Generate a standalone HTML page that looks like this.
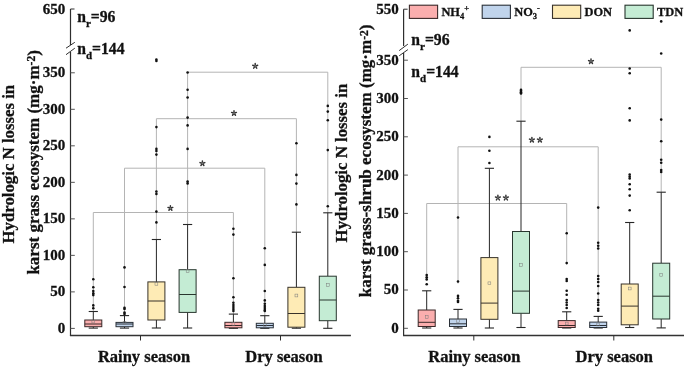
<!DOCTYPE html>
<html><head><meta charset="utf-8"><style>
html,body{margin:0;padding:0;background:#fff;}
svg{display:block;will-change:transform;}
text{font-family:"Liberation Serif", serif;font-weight:bold;fill:#111;stroke:#111;stroke-width:0.3px;}
</style></head><body>
<svg width="685" height="367" viewBox="0 0 685 367">
<polyline points="93.3,311.5 93.3,212.5 233.4,212.5 233.4,314.1" fill="none" stroke="#b4b4b4" stroke-width="1"/>
<path d="M170.40,208.20L170.40,206.80M170.40,208.20L171.73,207.77M170.40,208.20L171.22,209.33M170.40,208.20L169.58,209.33M170.40,208.20L169.07,207.77" stroke="#777" stroke-width="0.8" fill="none"/>
<path d="M170.40,206.90L170.40,205.65M171.64,207.80L172.83,207.41M171.16,209.25L171.90,210.26M169.64,209.25L168.90,210.26M169.16,207.80L167.97,207.41" stroke="#333" stroke-width="1.45" stroke-linecap="round" fill="none"/>
<polyline points="124.5,315.6 124.5,168.2 264.8,168.2 264.8,315.7" fill="none" stroke="#b4b4b4" stroke-width="1"/>
<path d="M202.40,163.40L202.40,162.00M202.40,163.40L203.73,162.97M202.40,163.40L203.22,164.53M202.40,163.40L201.58,164.53M202.40,163.40L201.07,162.97" stroke="#777" stroke-width="0.8" fill="none"/>
<path d="M202.40,162.10L202.40,160.85M203.64,163.00L204.83,162.61M203.16,164.45L203.90,165.46M201.64,164.45L200.90,165.46M201.16,163.00L199.97,162.61" stroke="#333" stroke-width="1.45" stroke-linecap="round" fill="none"/>
<polyline points="156.4,239.5 156.4,118.7 296.4,118.7 296.4,232.2" fill="none" stroke="#b4b4b4" stroke-width="1"/>
<path d="M234.00,113.20L234.00,111.80M234.00,113.20L235.33,112.77M234.00,113.20L234.82,114.33M234.00,113.20L233.18,114.33M234.00,113.20L232.67,112.77" stroke="#777" stroke-width="0.8" fill="none"/>
<path d="M234.00,111.90L234.00,110.65M235.24,112.80L236.43,112.41M234.76,114.25L235.50,115.26M233.24,114.25L232.50,115.26M232.76,112.80L231.57,112.41" stroke="#333" stroke-width="1.45" stroke-linecap="round" fill="none"/>
<polyline points="187.6,224.5 187.6,72.2 327.8,72.2 327.8,212.8" fill="none" stroke="#b4b4b4" stroke-width="1"/>
<path d="M255.20,66.10L255.20,64.70M255.20,66.10L256.53,65.67M255.20,66.10L256.02,67.23M255.20,66.10L254.38,67.23M255.20,66.10L253.87,65.67" stroke="#777" stroke-width="0.8" fill="none"/>
<path d="M255.20,64.80L255.20,63.55M256.44,65.70L257.63,65.31M255.96,67.15L256.70,68.16M254.44,67.15L253.70,68.16M253.96,65.70L252.77,65.31" stroke="#333" stroke-width="1.45" stroke-linecap="round" fill="none"/>
<line x1="70.5" y1="9" x2="70.5" y2="45" stroke="#2e2e2e" stroke-width="1.2"/>
<line x1="70.5" y1="52" x2="70.5" y2="335.5" stroke="#2e2e2e" stroke-width="1.2"/>
<line x1="69.9" y1="335.5" x2="350.9" y2="335.5" stroke="#333" stroke-width="1.5"/>
<line x1="66.0" y1="48.2" x2="74.8" y2="42.3" stroke="#2e2e2e" stroke-width="1"/>
<line x1="66.0" y1="54.7" x2="74.8" y2="48.2" stroke="#2e2e2e" stroke-width="1"/>
<line x1="70.5" y1="328.4" x2="74.8" y2="328.4" stroke="#555" stroke-width="1"/>
<text x="65.3" y="333.0" font-size="15" text-anchor="end" >0</text>
<line x1="70.5" y1="291.885" x2="74.8" y2="291.885" stroke="#555" stroke-width="1"/>
<text x="65.3" y="296.485" font-size="15" text-anchor="end" >50</text>
<line x1="70.5" y1="255.36999999999998" x2="74.8" y2="255.36999999999998" stroke="#555" stroke-width="1"/>
<text x="65.3" y="259.96999999999997" font-size="15" text-anchor="end" >100</text>
<line x1="70.5" y1="218.855" x2="74.8" y2="218.855" stroke="#555" stroke-width="1"/>
<text x="65.3" y="223.45499999999998" font-size="15" text-anchor="end" >150</text>
<line x1="70.5" y1="182.33999999999997" x2="74.8" y2="182.33999999999997" stroke="#555" stroke-width="1"/>
<text x="65.3" y="186.93999999999997" font-size="15" text-anchor="end" >200</text>
<line x1="70.5" y1="145.825" x2="74.8" y2="145.825" stroke="#555" stroke-width="1"/>
<text x="65.3" y="150.42499999999998" font-size="15" text-anchor="end" >250</text>
<line x1="70.5" y1="109.31" x2="74.8" y2="109.31" stroke="#555" stroke-width="1"/>
<text x="65.3" y="113.91" font-size="15" text-anchor="end" >300</text>
<line x1="70.5" y1="72.79499999999999" x2="74.8" y2="72.79499999999999" stroke="#555" stroke-width="1"/>
<text x="65.3" y="77.39499999999998" font-size="15" text-anchor="end" >350</text>
<line x1="70.5" y1="9" x2="74.5" y2="9" stroke="#2e2e2e" stroke-width="1"/>
<text x="65.3" y="14.2" font-size="15" text-anchor="end" >650</text>
<line x1="140.5" y1="335.5" x2="140.5" y2="340.5" stroke="#2e2e2e" stroke-width="1"/>
<line x1="280.5" y1="335.5" x2="280.5" y2="340.5" stroke="#2e2e2e" stroke-width="1"/>
<text x="144" y="361.6" font-size="16.5" text-anchor="middle" >Rainy season</text>
<text x="284" y="361.6" font-size="16.5" text-anchor="middle" >Dry season</text>
<text x="77.2" y="22" font-size="15.7">n<tspan font-size="11" dy="4.8">r</tspan><tspan dy="-4.8">=96</tspan></text>
<text x="77.2" y="53.8" font-size="15.7">n<tspan font-size="11" dy="4.8">d</tspan><tspan dy="-4.8">=144</tspan></text>
<text transform="translate(13.6,243.5) rotate(-90)" font-size="16.8">Hydrologic N losses in</text>
<text transform="translate(38.5,274.6) rotate(-90)" font-size="17">karst grass ecosystem (mg·m<tspan font-size="11.5" dy="-3.5">-2</tspan><tspan dy="3.5">)</tspan></text>
<polyline points="426.7,276 426.7,203.5 566.7,203.5 566.7,265" fill="none" stroke="#b4b4b4" stroke-width="1"/>
<path d="M497.90,197.80L497.90,196.40M497.90,197.80L499.23,197.37M497.90,197.80L498.72,198.93M497.90,197.80L497.08,198.93M497.90,197.80L496.57,197.37" stroke="#777" stroke-width="0.8" fill="none"/>
<path d="M497.90,196.50L497.90,195.25M499.14,197.40L500.33,197.01M498.66,198.85L499.40,199.86M497.14,198.85L496.40,199.86M496.66,197.40L495.47,197.01" stroke="#333" stroke-width="1.45" stroke-linecap="round" fill="none"/>
<path d="M505.90,197.80L505.90,196.40M505.90,197.80L507.23,197.37M505.90,197.80L506.72,198.93M505.90,197.80L505.08,198.93M505.90,197.80L504.57,197.37" stroke="#777" stroke-width="0.8" fill="none"/>
<path d="M505.90,196.50L505.90,195.25M507.14,197.40L508.33,197.01M506.66,198.85L507.40,199.86M505.14,198.85L504.40,199.86M504.66,197.40L503.47,197.01" stroke="#333" stroke-width="1.45" stroke-linecap="round" fill="none"/>
<polyline points="458.0,283.5 458.0,146.8 598.2,146.8 598.2,302" fill="none" stroke="#b4b4b4" stroke-width="1"/>
<path d="M531.90,139.90L531.90,138.50M531.90,139.90L533.23,139.47M531.90,139.90L532.72,141.03M531.90,139.90L531.08,141.03M531.90,139.90L530.57,139.47" stroke="#777" stroke-width="0.8" fill="none"/>
<path d="M531.90,138.60L531.90,137.35M533.14,139.50L534.33,139.11M532.66,140.95L533.40,141.96M531.14,140.95L530.40,141.96M530.66,139.50L529.47,139.11" stroke="#333" stroke-width="1.45" stroke-linecap="round" fill="none"/>
<path d="M539.90,139.90L539.90,138.50M539.90,139.90L541.23,139.47M539.90,139.90L540.72,141.03M539.90,139.90L539.08,141.03M539.90,139.90L538.57,139.47" stroke="#777" stroke-width="0.8" fill="none"/>
<path d="M539.90,138.60L539.90,137.35M541.14,139.50L542.33,139.11M540.66,140.95L541.40,141.96M539.14,140.95L538.40,141.96M538.66,139.50L537.47,139.11" stroke="#333" stroke-width="1.45" stroke-linecap="round" fill="none"/>
<polyline points="521.0,121.2 521.0,67.3 661.2,67.3 661.2,192.2" fill="none" stroke="#b4b4b4" stroke-width="1"/>
<path d="M591.00,61.40L591.00,60.00M591.00,61.40L592.33,60.97M591.00,61.40L591.82,62.53M591.00,61.40L590.18,62.53M591.00,61.40L589.67,60.97" stroke="#777" stroke-width="0.8" fill="none"/>
<path d="M591.00,60.10L591.00,58.85M592.24,61.00L593.43,60.61M591.76,62.45L592.50,63.46M590.24,62.45L589.50,63.46M589.76,61.00L588.57,60.61" stroke="#333" stroke-width="1.45" stroke-linecap="round" fill="none"/>
<line x1="403.6" y1="9.2" x2="403.6" y2="46" stroke="#2e2e2e" stroke-width="1.2"/>
<line x1="403.6" y1="53" x2="403.6" y2="335.5" stroke="#2e2e2e" stroke-width="1.2"/>
<line x1="403.0" y1="335.5" x2="684" y2="335.5" stroke="#333" stroke-width="1.5"/>
<line x1="399.20000000000005" y1="50.6" x2="407.90000000000003" y2="44.1" stroke="#2e2e2e" stroke-width="1"/>
<line x1="399.20000000000005" y1="55.8" x2="407.90000000000003" y2="49.6" stroke="#2e2e2e" stroke-width="1"/>
<line x1="403.6" y1="328.3" x2="407.90000000000003" y2="328.3" stroke="#555" stroke-width="1"/>
<text x="398.7" y="332.7" font-size="15" text-anchor="end" >0</text>
<line x1="403.6" y1="290.0" x2="407.90000000000003" y2="290.0" stroke="#555" stroke-width="1"/>
<text x="398.7" y="294.4" font-size="15" text-anchor="end" >50</text>
<line x1="403.6" y1="251.70000000000002" x2="407.90000000000003" y2="251.70000000000002" stroke="#555" stroke-width="1"/>
<text x="398.7" y="256.1" font-size="15" text-anchor="end" >100</text>
<line x1="403.6" y1="213.4" x2="407.90000000000003" y2="213.4" stroke="#555" stroke-width="1"/>
<text x="398.7" y="217.8" font-size="15" text-anchor="end" >150</text>
<line x1="403.6" y1="175.10000000000002" x2="407.90000000000003" y2="175.10000000000002" stroke="#555" stroke-width="1"/>
<text x="398.7" y="179.50000000000003" font-size="15" text-anchor="end" >200</text>
<line x1="403.6" y1="136.8" x2="407.90000000000003" y2="136.8" stroke="#555" stroke-width="1"/>
<text x="398.7" y="141.20000000000002" font-size="15" text-anchor="end" >250</text>
<line x1="403.6" y1="98.5" x2="407.90000000000003" y2="98.5" stroke="#555" stroke-width="1"/>
<text x="398.7" y="102.9" font-size="15" text-anchor="end" >300</text>
<line x1="403.6" y1="60.19999999999999" x2="407.90000000000003" y2="60.19999999999999" stroke="#555" stroke-width="1"/>
<text x="398.7" y="64.6" font-size="15" text-anchor="end" >350</text>
<line x1="403.6" y1="9.2" x2="407.6" y2="9.2" stroke="#2e2e2e" stroke-width="1"/>
<text x="398.7" y="14.4" font-size="15" text-anchor="end" >550</text>
<line x1="473.8" y1="335.5" x2="473.8" y2="340.5" stroke="#2e2e2e" stroke-width="1"/>
<line x1="613.8" y1="335.5" x2="613.8" y2="340.5" stroke="#2e2e2e" stroke-width="1"/>
<text x="474.3" y="361.6" font-size="16.5" text-anchor="middle" >Rainy season</text>
<text x="614.3" y="361.6" font-size="16.5" text-anchor="middle" >Dry season</text>
<text x="411.3" y="45" font-size="15.7">n<tspan font-size="11" dy="4.8">r</tspan><tspan dy="-4.8">=96</tspan></text>
<text x="411.3" y="76.8" font-size="15.7">n<tspan font-size="11" dy="4.8">d</tspan><tspan dy="-4.8">=144</tspan></text>
<text transform="translate(347.3,242.4) rotate(-90)" font-size="16.8">Hydrologic N losses in</text>
<text transform="translate(371.3,297.2) rotate(-90)" font-size="17">karst grass-shrub ecosystem (mg·m<tspan font-size="11.5" dy="-3.5">-2</tspan><tspan dy="3.5">)</tspan></text>
<line x1="93.3" y1="311.5" x2="93.3" y2="320" stroke="#262626" stroke-width="1"/>
<line x1="93.3" y1="326.7" x2="93.3" y2="328.1" stroke="#262626" stroke-width="1"/>
<line x1="88.7" y1="311.5" x2="97.89999999999999" y2="311.5" stroke="#262626" stroke-width="1.1"/>
<line x1="88.7" y1="328.1" x2="97.89999999999999" y2="328.1" stroke="#262626" stroke-width="1.1"/>
<rect x="84.8" y="320" width="17.0" height="6.699999999999989" fill="#FBAEAE" stroke="#3a2828" stroke-width="1"/>
<line x1="84.8" y1="324" x2="101.8" y2="324" stroke="#3a2828" stroke-width="1"/>
<rect x="91.89999999999999" y="320.1" width="2.8" height="2.8" fill="none" stroke="#7a7a7a" stroke-width="0.5"/>
<circle cx="93.3" cy="279.3" r="1.3" fill="#111"/>
<circle cx="93.3" cy="287.3" r="1.3" fill="#111"/>
<circle cx="93.3" cy="291" r="1.3" fill="#111"/>
<circle cx="93.3" cy="293.2" r="1.3" fill="#111"/>
<circle cx="93.3" cy="295.1" r="1.3" fill="#111"/>
<circle cx="93.3" cy="305.4" r="1.3" fill="#111"/>
<circle cx="93.3" cy="308.2" r="1.3" fill="#111"/>
<line x1="124.5" y1="315.6" x2="124.5" y2="322.4" stroke="#262626" stroke-width="1"/>
<line x1="124.5" y1="326.7" x2="124.5" y2="328.1" stroke="#262626" stroke-width="1"/>
<line x1="119.9" y1="315.6" x2="129.1" y2="315.6" stroke="#262626" stroke-width="1.1"/>
<line x1="119.9" y1="328.1" x2="129.1" y2="328.1" stroke="#262626" stroke-width="1.1"/>
<rect x="116.0" y="322.4" width="17.0" height="4.300000000000011" fill="#C0D4EC" stroke="#2a3038" stroke-width="1"/>
<line x1="116.0" y1="324" x2="133.0" y2="324" stroke="#2a3038" stroke-width="1"/>
<rect x="123.1" y="321.6" width="2.8" height="2.8" fill="none" stroke="#7a7a7a" stroke-width="0.5"/>
<circle cx="124.5" cy="267.4" r="1.3" fill="#111"/>
<circle cx="124.5" cy="287" r="1.3" fill="#111"/>
<circle cx="124.5" cy="307.7" r="1.3" fill="#111"/>
<circle cx="124.5" cy="309" r="1.3" fill="#111"/>
<circle cx="124.5" cy="312.6" r="1.3" fill="#111"/>
<circle cx="124.5" cy="314" r="1.3" fill="#111"/>
<line x1="156.4" y1="239.5" x2="156.4" y2="281.9" stroke="#262626" stroke-width="1"/>
<line x1="156.4" y1="320" x2="156.4" y2="328" stroke="#262626" stroke-width="1"/>
<line x1="151.8" y1="239.5" x2="161.0" y2="239.5" stroke="#262626" stroke-width="1.1"/>
<line x1="151.8" y1="328" x2="161.0" y2="328" stroke="#262626" stroke-width="1.1"/>
<rect x="147.9" y="281.9" width="17.0" height="38.10000000000002" fill="#FEEBB5" stroke="#38322a" stroke-width="1"/>
<line x1="147.9" y1="301" x2="164.9" y2="301" stroke="#38322a" stroke-width="1"/>
<rect x="155.0" y="282.40000000000003" width="2.8" height="2.8" fill="none" stroke="#7a7a7a" stroke-width="0.5"/>
<circle cx="156.4" cy="59.5" r="1.3" fill="#111"/>
<circle cx="156.4" cy="61" r="1.3" fill="#111"/>
<circle cx="156.4" cy="127.1" r="1.3" fill="#111"/>
<circle cx="156.4" cy="148.9" r="1.3" fill="#111"/>
<circle cx="156.4" cy="151" r="1.3" fill="#111"/>
<circle cx="156.4" cy="154.6" r="1.3" fill="#111"/>
<circle cx="156.4" cy="191.5" r="1.3" fill="#111"/>
<circle cx="156.4" cy="193.9" r="1.3" fill="#111"/>
<circle cx="156.4" cy="211.6" r="1.3" fill="#111"/>
<circle cx="156.4" cy="222.4" r="1.3" fill="#111"/>
<line x1="187.6" y1="224.5" x2="187.6" y2="269.7" stroke="#262626" stroke-width="1"/>
<line x1="187.6" y1="312.4" x2="187.6" y2="328" stroke="#262626" stroke-width="1"/>
<line x1="183.0" y1="224.5" x2="192.2" y2="224.5" stroke="#262626" stroke-width="1.1"/>
<line x1="183.0" y1="328" x2="192.2" y2="328" stroke="#262626" stroke-width="1.1"/>
<rect x="179.1" y="269.7" width="17.0" height="42.69999999999999" fill="#C4ECD4" stroke="#28362e" stroke-width="1"/>
<line x1="179.1" y1="294.5" x2="196.1" y2="294.5" stroke="#28362e" stroke-width="1"/>
<rect x="186.2" y="269.5" width="2.8" height="2.8" fill="none" stroke="#7a7a7a" stroke-width="0.5"/>
<circle cx="187.6" cy="72.5" r="1.3" fill="#111"/>
<circle cx="187.6" cy="89.7" r="1.3" fill="#111"/>
<circle cx="187.6" cy="97.5" r="1.3" fill="#111"/>
<circle cx="187.6" cy="117.6" r="1.3" fill="#111"/>
<circle cx="187.6" cy="125.4" r="1.3" fill="#111"/>
<circle cx="187.6" cy="148.9" r="1.3" fill="#111"/>
<circle cx="187.6" cy="181.6" r="1.3" fill="#111"/>
<circle cx="187.6" cy="183.4" r="1.3" fill="#111"/>
<line x1="233.4" y1="314.1" x2="233.4" y2="322.3" stroke="#262626" stroke-width="1"/>
<line x1="233.4" y1="327.8" x2="233.4" y2="328.3" stroke="#262626" stroke-width="1"/>
<line x1="228.8" y1="314.1" x2="238.0" y2="314.1" stroke="#262626" stroke-width="1.1"/>
<line x1="228.8" y1="328.3" x2="238.0" y2="328.3" stroke="#262626" stroke-width="1.1"/>
<rect x="224.9" y="322.3" width="17.0" height="5.5" fill="#FBAEAE" stroke="#3a2828" stroke-width="1"/>
<line x1="224.9" y1="325.5" x2="241.9" y2="325.5" stroke="#3a2828" stroke-width="1"/>
<rect x="232.0" y="322.6" width="2.8" height="2.8" fill="none" stroke="#7a7a7a" stroke-width="0.5"/>
<circle cx="233.4" cy="228.7" r="1.3" fill="#111"/>
<circle cx="233.4" cy="234.6" r="1.3" fill="#111"/>
<circle cx="233.4" cy="278.3" r="1.3" fill="#111"/>
<circle cx="233.4" cy="297.2" r="1.3" fill="#111"/>
<circle cx="233.4" cy="302.7" r="1.3" fill="#111"/>
<circle cx="233.4" cy="305" r="1.3" fill="#111"/>
<circle cx="233.4" cy="307" r="1.3" fill="#111"/>
<circle cx="233.4" cy="309" r="1.3" fill="#111"/>
<circle cx="233.4" cy="310.9" r="1.3" fill="#111"/>
<line x1="264.8" y1="315.7" x2="264.8" y2="323.3" stroke="#262626" stroke-width="1"/>
<line x1="264.8" y1="327.8" x2="264.8" y2="328.3" stroke="#262626" stroke-width="1"/>
<line x1="260.2" y1="315.7" x2="269.40000000000003" y2="315.7" stroke="#262626" stroke-width="1.1"/>
<line x1="260.2" y1="328.3" x2="269.40000000000003" y2="328.3" stroke="#262626" stroke-width="1.1"/>
<rect x="256.3" y="323.3" width="17.0" height="4.5" fill="#C0D4EC" stroke="#2a3038" stroke-width="1"/>
<line x1="256.3" y1="325.5" x2="273.3" y2="325.5" stroke="#2a3038" stroke-width="1"/>
<rect x="263.40000000000003" y="323.6" width="2.8" height="2.8" fill="none" stroke="#7a7a7a" stroke-width="0.5"/>
<circle cx="264.8" cy="248.3" r="1.3" fill="#111"/>
<circle cx="264.8" cy="264.9" r="1.3" fill="#111"/>
<circle cx="264.8" cy="291" r="1.3" fill="#111"/>
<circle cx="264.8" cy="300.4" r="1.3" fill="#111"/>
<circle cx="264.8" cy="303.7" r="1.3" fill="#111"/>
<circle cx="264.8" cy="306" r="1.3" fill="#111"/>
<circle cx="264.8" cy="308" r="1.3" fill="#111"/>
<circle cx="264.8" cy="310" r="1.3" fill="#111"/>
<circle cx="264.8" cy="310.9" r="1.3" fill="#111"/>
<line x1="296.4" y1="232.2" x2="296.4" y2="287.3" stroke="#262626" stroke-width="1"/>
<line x1="296.4" y1="327.2" x2="296.4" y2="328.2" stroke="#262626" stroke-width="1"/>
<line x1="291.79999999999995" y1="232.2" x2="301.0" y2="232.2" stroke="#262626" stroke-width="1.1"/>
<line x1="291.79999999999995" y1="328.2" x2="301.0" y2="328.2" stroke="#262626" stroke-width="1.1"/>
<rect x="287.9" y="287.3" width="17.0" height="39.89999999999998" fill="#FEEBB5" stroke="#38322a" stroke-width="1"/>
<line x1="287.9" y1="313.5" x2="304.9" y2="313.5" stroke="#38322a" stroke-width="1"/>
<rect x="295.0" y="294.1" width="2.8" height="2.8" fill="none" stroke="#7a7a7a" stroke-width="0.5"/>
<circle cx="296.4" cy="143.3" r="1.3" fill="#111"/>
<circle cx="296.4" cy="174.9" r="1.3" fill="#111"/>
<circle cx="296.4" cy="183.6" r="1.3" fill="#111"/>
<circle cx="296.4" cy="204.4" r="1.3" fill="#111"/>
<line x1="327.8" y1="212.8" x2="327.8" y2="276.2" stroke="#262626" stroke-width="1"/>
<line x1="327.8" y1="320.7" x2="327.8" y2="328.3" stroke="#262626" stroke-width="1"/>
<line x1="323.2" y1="212.8" x2="332.40000000000003" y2="212.8" stroke="#262626" stroke-width="1.1"/>
<line x1="323.2" y1="328.3" x2="332.40000000000003" y2="328.3" stroke="#262626" stroke-width="1.1"/>
<rect x="319.3" y="276.2" width="17.0" height="44.5" fill="#C4ECD4" stroke="#28362e" stroke-width="1"/>
<line x1="319.3" y1="300" x2="336.3" y2="300" stroke="#28362e" stroke-width="1"/>
<rect x="326.40000000000003" y="283.6" width="2.8" height="2.8" fill="none" stroke="#7a7a7a" stroke-width="0.5"/>
<circle cx="327.8" cy="105.9" r="1.3" fill="#111"/>
<circle cx="327.8" cy="111.6" r="1.3" fill="#111"/>
<circle cx="327.8" cy="120.2" r="1.3" fill="#111"/>
<circle cx="327.8" cy="150.1" r="1.3" fill="#111"/>
<circle cx="327.8" cy="206.3" r="1.3" fill="#111"/>
<line x1="426.7" y1="290.8" x2="426.7" y2="310" stroke="#262626" stroke-width="1"/>
<line x1="426.7" y1="326.5" x2="426.7" y2="328" stroke="#262626" stroke-width="1"/>
<line x1="422.09999999999997" y1="290.8" x2="431.3" y2="290.8" stroke="#262626" stroke-width="1.1"/>
<line x1="422.09999999999997" y1="328" x2="431.3" y2="328" stroke="#262626" stroke-width="1.1"/>
<rect x="418.2" y="310" width="17.0" height="16.5" fill="#FBAEAE" stroke="#3a2828" stroke-width="1"/>
<line x1="418.2" y1="322.3" x2="435.2" y2="322.3" stroke="#3a2828" stroke-width="1"/>
<rect x="425.3" y="315.5" width="2.8" height="2.8" fill="none" stroke="#7a7a7a" stroke-width="0.5"/>
<circle cx="426.7" cy="275" r="1.3" fill="#111"/>
<circle cx="426.7" cy="277.3" r="1.3" fill="#111"/>
<circle cx="426.7" cy="279.4" r="1.3" fill="#111"/>
<circle cx="426.7" cy="284.2" r="1.3" fill="#111"/>
<line x1="458.0" y1="309.4" x2="458.0" y2="319" stroke="#262626" stroke-width="1"/>
<line x1="458.0" y1="326.5" x2="458.0" y2="328" stroke="#262626" stroke-width="1"/>
<line x1="453.4" y1="309.4" x2="462.6" y2="309.4" stroke="#262626" stroke-width="1.1"/>
<line x1="453.4" y1="328" x2="462.6" y2="328" stroke="#262626" stroke-width="1.1"/>
<rect x="449.5" y="319" width="17.0" height="7.5" fill="#C0D4EC" stroke="#2a3038" stroke-width="1"/>
<line x1="449.5" y1="323.8" x2="466.5" y2="323.8" stroke="#2a3038" stroke-width="1"/>
<rect x="456.6" y="319.40000000000003" width="2.8" height="2.8" fill="none" stroke="#7a7a7a" stroke-width="0.5"/>
<circle cx="458.0" cy="217.5" r="1.3" fill="#111"/>
<circle cx="458.0" cy="281.5" r="1.3" fill="#111"/>
<circle cx="458.0" cy="295.9" r="1.3" fill="#111"/>
<circle cx="458.0" cy="298.3" r="1.3" fill="#111"/>
<circle cx="458.0" cy="300.7" r="1.3" fill="#111"/>
<circle cx="458.0" cy="301.9" r="1.3" fill="#111"/>
<line x1="489.4" y1="168.3" x2="489.4" y2="257.6" stroke="#262626" stroke-width="1"/>
<line x1="489.4" y1="319.3" x2="489.4" y2="328" stroke="#262626" stroke-width="1"/>
<line x1="484.79999999999995" y1="168.3" x2="494.0" y2="168.3" stroke="#262626" stroke-width="1.1"/>
<line x1="484.79999999999995" y1="328" x2="494.0" y2="328" stroke="#262626" stroke-width="1.1"/>
<rect x="480.9" y="257.6" width="17.0" height="61.69999999999999" fill="#FEEBB5" stroke="#38322a" stroke-width="1"/>
<line x1="480.9" y1="303.1" x2="497.9" y2="303.1" stroke="#38322a" stroke-width="1"/>
<rect x="488.0" y="281.90000000000003" width="2.8" height="2.8" fill="none" stroke="#7a7a7a" stroke-width="0.5"/>
<circle cx="489.4" cy="136.9" r="1.3" fill="#111"/>
<circle cx="489.4" cy="150.8" r="1.3" fill="#111"/>
<circle cx="489.4" cy="163" r="1.3" fill="#111"/>
<line x1="521.0" y1="121.2" x2="521.0" y2="231.5" stroke="#262626" stroke-width="1"/>
<line x1="521.0" y1="313.3" x2="521.0" y2="327.5" stroke="#262626" stroke-width="1"/>
<line x1="516.4" y1="121.2" x2="525.6" y2="121.2" stroke="#262626" stroke-width="1.1"/>
<line x1="516.4" y1="327.5" x2="525.6" y2="327.5" stroke="#262626" stroke-width="1.1"/>
<rect x="512.5" y="231.5" width="17.0" height="81.80000000000001" fill="#C4ECD4" stroke="#28362e" stroke-width="1"/>
<line x1="512.5" y1="291.1" x2="529.5" y2="291.1" stroke="#28362e" stroke-width="1"/>
<rect x="519.6" y="263.6" width="2.8" height="2.8" fill="none" stroke="#7a7a7a" stroke-width="0.5"/>
<circle cx="521.0" cy="89.9" r="1.3" fill="#111"/>
<circle cx="521.0" cy="91.1" r="1.3" fill="#111"/>
<circle cx="521.0" cy="92.3" r="1.3" fill="#111"/>
<circle cx="521.0" cy="93.4" r="1.3" fill="#111"/>
<line x1="566.7" y1="311.8" x2="566.7" y2="320.6" stroke="#262626" stroke-width="1"/>
<line x1="566.7" y1="327.5" x2="566.7" y2="328" stroke="#262626" stroke-width="1"/>
<line x1="562.1" y1="311.8" x2="571.3000000000001" y2="311.8" stroke="#262626" stroke-width="1.1"/>
<line x1="562.1" y1="328" x2="571.3000000000001" y2="328" stroke="#262626" stroke-width="1.1"/>
<rect x="558.2" y="320.6" width="17.0" height="6.899999999999977" fill="#FBAEAE" stroke="#3a2828" stroke-width="1"/>
<line x1="558.2" y1="325.5" x2="575.2" y2="325.5" stroke="#3a2828" stroke-width="1"/>
<rect x="565.3000000000001" y="322.1" width="2.8" height="2.8" fill="none" stroke="#7a7a7a" stroke-width="0.5"/>
<circle cx="566.7" cy="233.2" r="1.3" fill="#111"/>
<circle cx="566.7" cy="263" r="1.3" fill="#111"/>
<circle cx="566.7" cy="279" r="1.3" fill="#111"/>
<circle cx="566.7" cy="281" r="1.3" fill="#111"/>
<circle cx="566.7" cy="290.8" r="1.3" fill="#111"/>
<circle cx="566.7" cy="294.7" r="1.3" fill="#111"/>
<circle cx="566.7" cy="300" r="1.3" fill="#111"/>
<circle cx="566.7" cy="302.5" r="1.3" fill="#111"/>
<circle cx="566.7" cy="305" r="1.3" fill="#111"/>
<circle cx="566.7" cy="308" r="1.3" fill="#111"/>
<line x1="598.2" y1="316.4" x2="598.2" y2="322.1" stroke="#262626" stroke-width="1"/>
<line x1="598.2" y1="327.5" x2="598.2" y2="328" stroke="#262626" stroke-width="1"/>
<line x1="593.6" y1="316.4" x2="602.8000000000001" y2="316.4" stroke="#262626" stroke-width="1.1"/>
<line x1="593.6" y1="328" x2="602.8000000000001" y2="328" stroke="#262626" stroke-width="1.1"/>
<rect x="589.7" y="322.1" width="17.0" height="5.399999999999977" fill="#C0D4EC" stroke="#2a3038" stroke-width="1"/>
<line x1="589.7" y1="325.5" x2="606.7" y2="325.5" stroke="#2a3038" stroke-width="1"/>
<rect x="596.8000000000001" y="323.1" width="2.8" height="2.8" fill="none" stroke="#7a7a7a" stroke-width="0.5"/>
<circle cx="598.2" cy="207.6" r="1.3" fill="#111"/>
<circle cx="598.2" cy="242.7" r="1.3" fill="#111"/>
<circle cx="598.2" cy="245.8" r="1.3" fill="#111"/>
<circle cx="598.2" cy="248.5" r="1.3" fill="#111"/>
<circle cx="598.2" cy="276" r="1.3" fill="#111"/>
<circle cx="598.2" cy="279" r="1.3" fill="#111"/>
<circle cx="598.2" cy="282" r="1.3" fill="#111"/>
<circle cx="598.2" cy="286" r="1.3" fill="#111"/>
<circle cx="598.2" cy="293.5" r="1.3" fill="#111"/>
<circle cx="598.2" cy="300" r="1.3" fill="#111"/>
<circle cx="598.2" cy="302.5" r="1.3" fill="#111"/>
<circle cx="598.2" cy="305" r="1.3" fill="#111"/>
<circle cx="598.2" cy="308.8" r="1.3" fill="#111"/>
<circle cx="598.2" cy="310.7" r="1.3" fill="#111"/>
<line x1="629.7" y1="222.5" x2="629.7" y2="284" stroke="#262626" stroke-width="1"/>
<line x1="629.7" y1="324.8" x2="629.7" y2="327.5" stroke="#262626" stroke-width="1"/>
<line x1="625.1" y1="222.5" x2="634.3000000000001" y2="222.5" stroke="#262626" stroke-width="1.1"/>
<line x1="625.1" y1="327.5" x2="634.3000000000001" y2="327.5" stroke="#262626" stroke-width="1.1"/>
<rect x="621.2" y="284" width="17.0" height="40.80000000000001" fill="#FEEBB5" stroke="#38322a" stroke-width="1"/>
<line x1="621.2" y1="306.1" x2="638.2" y2="306.1" stroke="#38322a" stroke-width="1"/>
<rect x="628.3000000000001" y="287.1" width="2.8" height="2.8" fill="none" stroke="#7a7a7a" stroke-width="0.5"/>
<circle cx="629.7" cy="30.4" r="1.3" fill="#111"/>
<circle cx="629.7" cy="68.5" r="1.3" fill="#111"/>
<circle cx="629.7" cy="73.2" r="1.3" fill="#111"/>
<circle cx="629.7" cy="108.2" r="1.3" fill="#111"/>
<circle cx="629.7" cy="120.4" r="1.3" fill="#111"/>
<circle cx="629.7" cy="174.5" r="1.3" fill="#111"/>
<circle cx="629.7" cy="176.5" r="1.3" fill="#111"/>
<circle cx="629.7" cy="178.4" r="1.3" fill="#111"/>
<circle cx="629.7" cy="184.3" r="1.3" fill="#111"/>
<circle cx="629.7" cy="189.2" r="1.3" fill="#111"/>
<circle cx="629.7" cy="195.6" r="1.3" fill="#111"/>
<circle cx="629.7" cy="210.3" r="1.3" fill="#111"/>
<line x1="661.2" y1="192.2" x2="661.2" y2="263.2" stroke="#262626" stroke-width="1"/>
<line x1="661.2" y1="319" x2="661.2" y2="327.9" stroke="#262626" stroke-width="1"/>
<line x1="656.6" y1="192.2" x2="665.8000000000001" y2="192.2" stroke="#262626" stroke-width="1.1"/>
<line x1="656.6" y1="327.9" x2="665.8000000000001" y2="327.9" stroke="#262626" stroke-width="1.1"/>
<rect x="652.7" y="263.2" width="17.0" height="55.80000000000001" fill="#C4ECD4" stroke="#28362e" stroke-width="1"/>
<line x1="652.7" y1="296.2" x2="669.7" y2="296.2" stroke="#28362e" stroke-width="1"/>
<rect x="659.8000000000001" y="273.40000000000003" width="2.8" height="2.8" fill="none" stroke="#7a7a7a" stroke-width="0.5"/>
<circle cx="661.2" cy="21.4" r="1.3" fill="#111"/>
<circle cx="661.2" cy="53.5" r="1.3" fill="#111"/>
<circle cx="661.2" cy="119.6" r="1.3" fill="#111"/>
<circle cx="661.2" cy="141.2" r="1.3" fill="#111"/>
<circle cx="661.2" cy="159.8" r="1.3" fill="#111"/>
<circle cx="661.2" cy="162.7" r="1.3" fill="#111"/>
<circle cx="661.2" cy="170" r="1.3" fill="#111"/>
<circle cx="661.2" cy="172" r="1.3" fill="#111"/>
<rect x="409.4" y="5.2" width="28.2" height="13.2" fill="#FBAEAE" stroke="#3a2828" stroke-width="1.1"/>
<text x="441.4" y="16.2" font-size="12.4">NH<tspan font-size="8.5" dy="3">4</tspan><tspan font-size="8.5" dy="-8">+</tspan></text>
<rect x="482.2" y="5.2" width="28.2" height="13.2" fill="#C0D4EC" stroke="#2a3038" stroke-width="1.1"/>
<text x="514.2" y="16.2" font-size="12.4">NO<tspan font-size="8.5" dy="3">3</tspan><tspan font-size="8.5" dy="-8">-</tspan></text>
<rect x="552.5" y="5.2" width="28.2" height="13.2" fill="#FEEBB5" stroke="#38322a" stroke-width="1.1"/>
<text x="584.5" y="16.2" font-size="12.4">DON</text>
<rect x="625" y="5.2" width="28.2" height="13.2" fill="#C4ECD4" stroke="#28362e" stroke-width="1.1"/>
<text x="657" y="16.2" font-size="12.4">TDN</text>
</svg>
</body></html>
